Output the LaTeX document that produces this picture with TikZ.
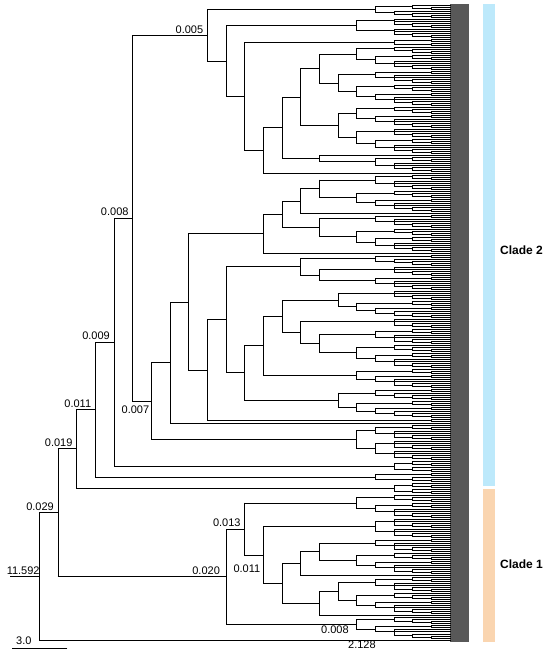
\documentclass[tikz,border=0pt]{standalone}
\usepackage{fontspec}
\setmainfont{Liberation Sans}
\usetikzlibrary{calc}
\definecolor{cladetwo}{RGB}{189,233,251}
\definecolor{cladeone}{RGB}{250,213,176}
\definecolor{tipgray}{RGB}{88,88,88}
\tikzset{
  br/.style={line width=0.9pt,line cap=rect},
  lab/.style={font=\fontsize{11}{13}\selectfont,inner sep=0pt},
  cl/.style={font=\fontsize{12}{14}\selectfont\bfseries,inner sep=0pt}
}
\newcount\leafi \leafi=0
\let\kid\relax
\gdef\childlist{}
\def\tipx{450.3}
\newcommand\thof[1]{\ifcase#1 0\or 0\or 1\or 2\or 3\or 3\or 4\or 4\or 4\or 5\or 5\or 5\or 5\or 5\or 6\or 6\or 6\or 6\or 6\or 6\or 6\or 6\else 7\fi}
\newcommand\TL{%
  \pgfmathsetmacro\ly{5+2.003*\the\leafi}%
  \global\advance\leafi by 1\relax
  \xdef\childlist{\childlist\kid{\tipx}{\ly}}}
\newcommand\TLN[1]{%
  \pgfmathsetmacro\ly{5+2.003*\the\leafi}%
  \global\advance\leafi by 1\relax
  \coordinate (#1) at (\tipx,\ly);%
  \xdef\childlist{\childlist\kid{\tipx}{\ly}}}
\newcommand\TN[3]{%
  \begingroup
  \let\savedlist\childlist
  \gdef\childlist{}%
  #2%
  \let\mykids\childlist
  \pgfmathsetmacro\myx{39.3+18.68*#1}%
  \def\firsty{}%
  \def\kid##1##2{%
    \ifx\firsty\empty\edef\firsty{##2}\fi
    \edef\lasty{##2}%
    \draw[br] (\myx,##2) -- (##1,##2);}%
  \mykids
  \draw[br] (\myx,\firsty) -- (\myx,\lasty);
  \pgfmathsetmacro\myy{(\firsty+\lasty)/2}%
  \if\relax\detokenize{#3}\relax\else\coordinate (#3) at (\myx,\myy);\fi
  \let\kid\relax
  \xdef\childlist{\savedlist\kid{\myx}{\myy}}%
  \endgroup}
\newcommand\TG[1]{%
  \ifnum#1=1\relax\TL\else
  \begingroup
  \pgfmathtruncatemacro\nb{max(1,floor(0.4*#1))}%
  \pgfmathtruncatemacro\na{#1-\nb}%
  \edef\hh{\thof{#1}}%
  \pgfmathtruncatemacro\lv{22-\hh}%
  \edef\next{\noexpand\TN{\lv}{\noexpand\TG{\nb}\noexpand\TG{\na}}{}}%
  \expandafter\endgroup\next
  \fi}
\begin{document}
\begin{tikzpicture}[x=1pt,y=-1pt]
\useasboundingbox (0,0) rectangle (550,654);
% tip block and clade bars
\fill[tipgray] (450.3,3.5) rectangle (469.3,642);
\fill[cladetwo] (483.3,4) rectangle (495,485.5);
\fill[cladeone] (483.3,488.7) rectangle (495,642);
\node[cl,anchor=west] (c2) at (500,250) {Clade 2};
\node[cl,anchor=west] (c1) at (500,564) {Clade 1};
% tree
\TN{0}{%
  \TN{1}{%
    \TN{2}{%
      \TN{3}{%
        \TN{4}{%
          \TN{5}{%
            \TN{9}{%
              \TN{18}{\TG{3}\TG{4}}{}%
              \TN{10}{%
                \TN{17}{\TG{5}\TG{5}}{}%
                \TN{11}{%
                  \TN{19}{\TG{2}\TG{2}}{}%
                  \TN{12}{%
                    \TN{13}{%
                      \TN{14}{%
                        \TN{15}{\TG{12}\TG{18}}{}%
                        \TN{16}{\TG{11}\TG{13}}{}%
                      }{}%
                      \TN{15}{\TL\TG{8}}{}%
                    }{}%
                    \TL
                  }{}%
                }{}%
              }{}%
            }{n005}%
            \TN{6}{%
              \TN{7}{%
                \TN{8}{%
                  \TN{12}{%
                    \TN{13}{%
                      \TN{14}{\TN{15}{\TG{8}\TG{11}}{}\TL}{}%
                      \TN{15}{\TG{7}\TG{12}}{}%
                    }{}%
                    \TL
                  }{}%
                  \TN{9}{%
                    \TN{10}{%
                      \TN{14}{\TG{6}\TN{15}{\TG{5}\TG{7}}{}}{}%
                      \TN{11}{%
                        \TN{12}{%
                          \TN{13}{%
                            \TG{14}%
                            \TN{14}{\TG{5}\TN{15}{\TG{8}\TG{12}}{}}{}%
                          }{}%
                          \TG{10}%
                        }{}%
                        \TN{16}{\TG{6}\TG{9}}{}%
                      }{}%
                    }{}%
                    \TG{2}%
                  }{}%
                }{}%
                \TL
              }{}%
              \TN{17}{\TG{8}\TN{18}{\TG{5}\TG{5}}{}}{}%
            }{n007}%
          }{n008}%
          \TN{19}{\TG{3}\TG{3}}{}%
        }{n009}%
        \TN{18}{\TG{2}\TG{3}}{}%
      }{n011}%
      \TN{19}{\TG{3}\TG{3}}{}%
    }{n019}%
    \TN{10}{%
      \TN{11}{%
        \TG{12}%
        \TN{12}{%
          \TN{18}{\TG{5}\TG{5}}{}%
          \TN{13}{%
            \TN{14}{\TN{15}{\TG{7}\TG{11}}{}\TL}{}%
            \TN{15}{\TN{16}{\TG{8}\TG{11}}{}\TL}{}%
          }{}%
        }{n011b}%
      }{n013}%
      \TN{17}{\TG{4}\TG{7}}{n008b}%
    }{n020}%
  }{n029}%
  \TLN{rl}%
}{root}
% root stem
\coordinate (sx) at (10,0);
\draw[br] (root) -- (root -| sx);
\node[lab,anchor=south,yshift=2pt] (l11592) at ($(root)!0.55!(root -| sx)$) {11.592};
% branch labels
\node[lab,anchor=south east,xshift=-4pt,yshift=2pt] (l1) at (n005) {0.005};
\node[lab,anchor=south east,xshift=-4pt,yshift=2pt] (l2) at (n008) {0.008};
\node[lab,anchor=south east,xshift=-4pt,yshift=2pt] (l3) at (n009) {0.009};
\node[lab,anchor=south east,xshift=-4pt,yshift=2pt] (l4) at (n011) {0.011};
\node[lab,anchor=south east,xshift=-4pt,yshift=2pt] (l5) at (n019) {0.019};
\node[lab,anchor=south east,xshift=-4pt,yshift=2pt] (l6) at (n029) {0.029};
\node[lab,anchor=south east,xshift=-6pt,yshift=2pt] (l7) at (n020) {0.020};
\node[lab,anchor=south east,xshift=-4pt,yshift=2pt] (l8) at (n013) {0.013};
\node[lab,anchor=north east,xshift=-2pt,yshift=-4pt] (l9) at (n007) {0.007};
\node[lab,anchor=east,xshift=-3pt,yshift=-13pt] (l10) at (n011b) {0.011};
\node[lab,anchor=north east,xshift=-8pt,yshift=-1pt] (l11) at (n008b) {0.008};
\node[lab,anchor=north,yshift=-1pt] (l12) at ($(root |- rl)!0.785!(rl)$) {2.128};
% scale bar
\coordinate (sb1) at (12,648);
\coordinate (sb2) at (67,648);
\draw[br] (sb1) -- (sb2);
\node[lab,anchor=south west,xshift=4pt,yshift=3pt] (sbl) at (sb1) {3.0};
\end{tikzpicture}
\end{document}
